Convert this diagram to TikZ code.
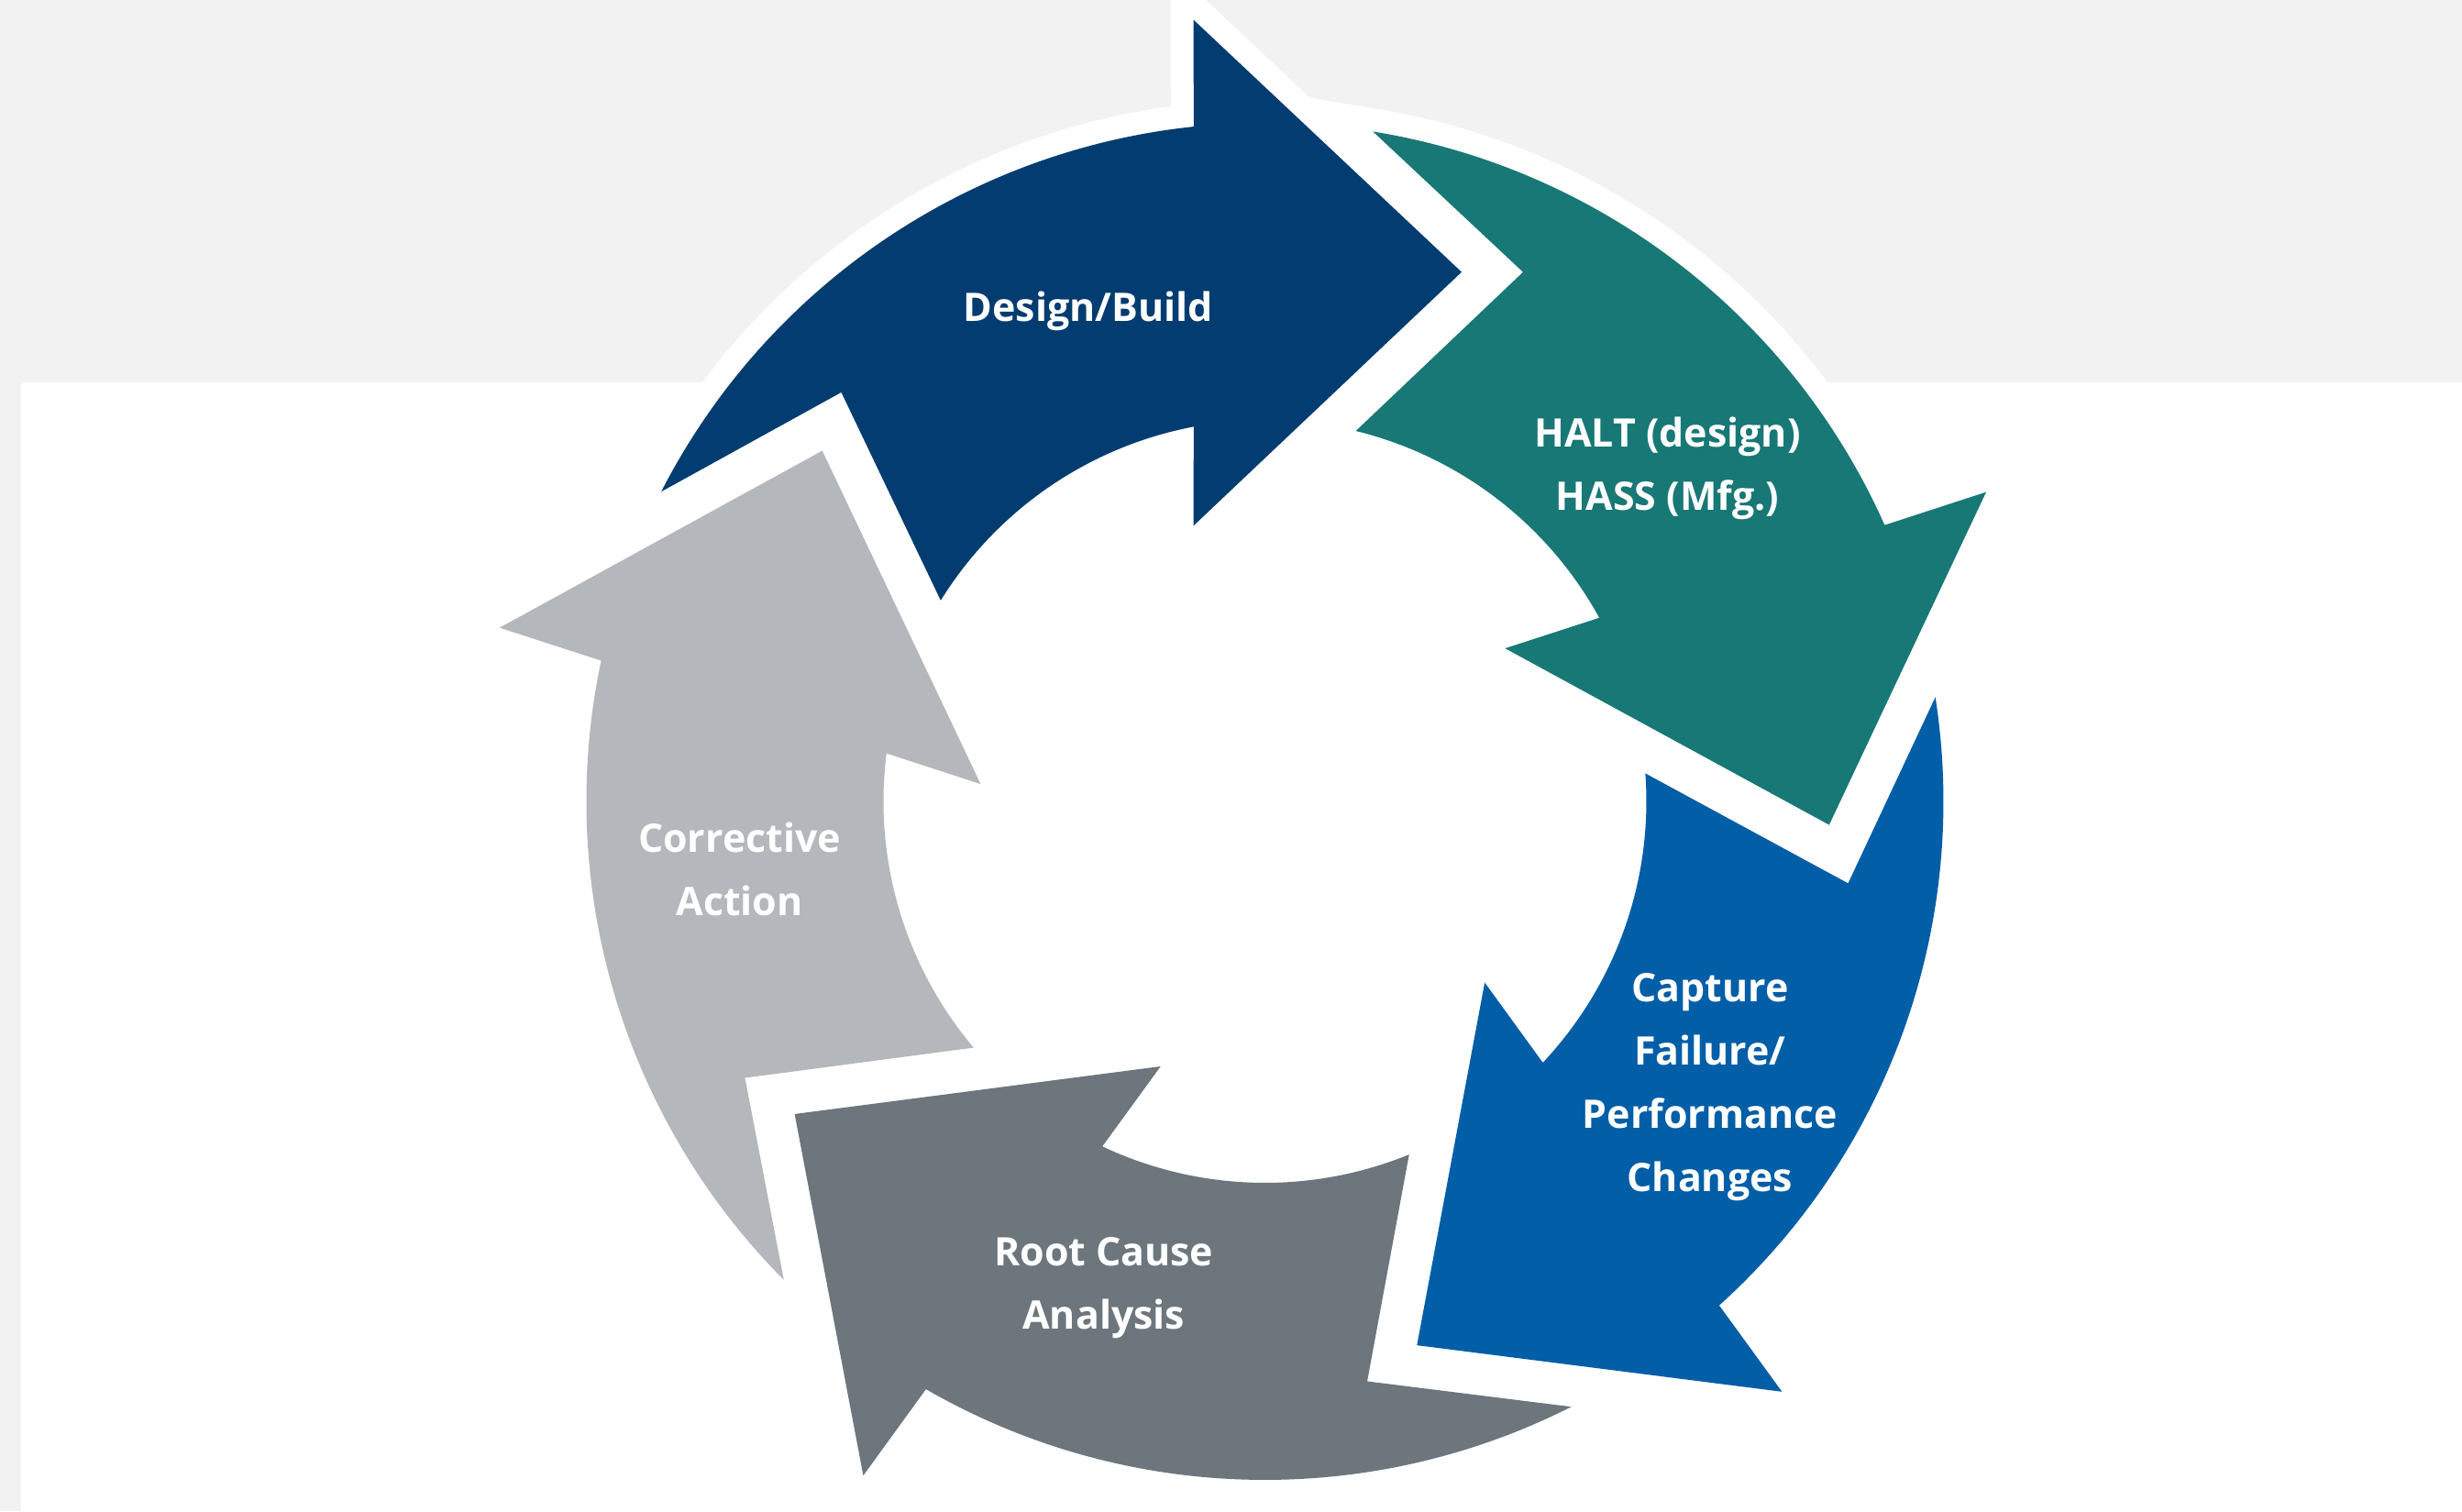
\documentclass[tikz,border=0pt]{standalone}
\usepackage{fontspec}
\setmainfont{Open Sans}
\usepackage{tikz}

\definecolor{designblue}{RGB}{2,60,112}
\definecolor{haltteal}{RGB}{24,120,118}
\definecolor{captureblue}{RGB}{2,94,167}
\definecolor{rootgray}{RGB}{108,118,124}
\definecolor{actiongray}{RGB}{180,183,187}
\definecolor{pagegray}{RGB}{242,242,242}

% one curved arrow of the ring, drawn at the top; the others are turned copies
\newcommand{\ringarrow}{(152.84:7.40) arc[start angle=152.84, end angle=96.03, radius=7.40]
  -- (-0.778,8.523) -- (2.145,5.773) -- (-0.778,3.007) -- (100.77:4.16)
  arc[start angle=100.77, end angle=148.21, radius=4.16] -- (-4.62,4.461) -- cycle}

\begin{document}
\begin{tikzpicture}[thick,
  ring arrow/.style={preaction={draw=white,line width=5mm}},
  step text/.style={text=white,inner sep=0pt,align=center,
  font=\bfseries\fontsize{12.2}{19.6}\selectfont}]

  \useasboundingbox (-13.795,-7.74) rectangle (13.055,8.74);
  \clip (-13.795,-7.74) rectangle (13.055,8.74);
  \fill[pagegray] (-13.795,-7.74) rectangle (13.055,8.74);
  \fill[white] (-13.565,-7.74) rectangle (13.055,4.573);

  \foreach \ang/\col in {0/designblue,-72/haltteal,-144/captureblue,
      -216/rootgray,-288/actiongray}
    \fill[ring arrow,fill=\col,rotate=\ang] \ringarrow;

  \node[step text] (DB) at (-1.928,5.35) {Design/Build};
  \node[step text] (HALT) at (4.391,3.63) {HALT (design)\\HASS (Mfg.)};
  \node[step text] (CAP) at (4.853,-3.117) {Capture\\Failure/\\Performance\\Changes};
  \node[step text] (RCA) at (-1.757,-5.309) {Root Cause\\Analysis};
  \node[step text] (CA) at (-5.73,-0.735) {Corrective\\Action};
\end{tikzpicture}
\end{document}
